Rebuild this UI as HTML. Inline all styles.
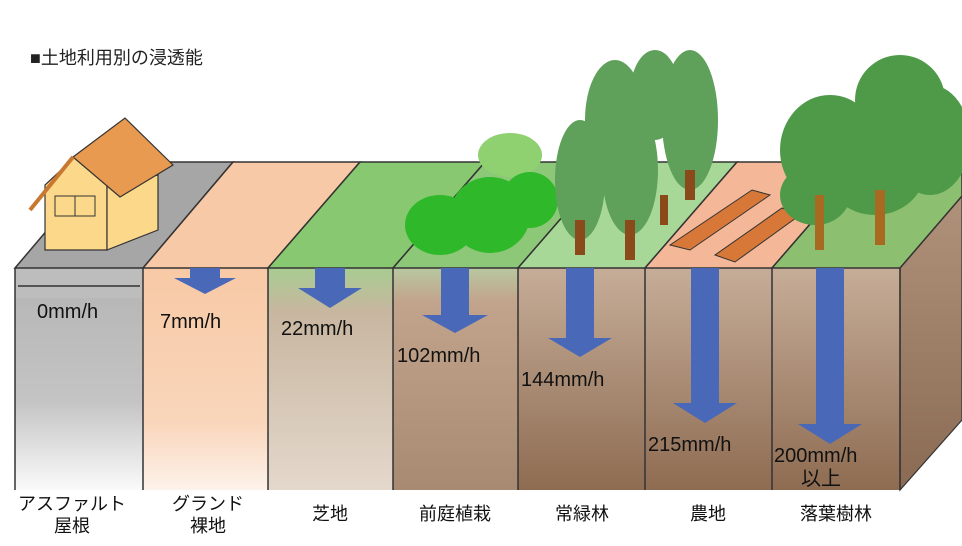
<!DOCTYPE html>
<html><head><meta charset="utf-8"><style>
body{margin:0;background:#fff;width:962px;height:541px;overflow:hidden}
svg text{font-family:"Liberation Sans","Noto Sans CJK JP",sans-serif}
</style></head><body>
<svg width="962" height="541" viewBox="0 0 962 541" xmlns="http://www.w3.org/2000/svg">
<defs>
<linearGradient id="ga" x1="0" y1="0" x2="0" y2="1"><stop offset="0" stop-color="#b4b4b4"/><stop offset="0.6" stop-color="#c4c4c4"/><stop offset="1" stop-color="#fafafa"/></linearGradient>
<linearGradient id="gp" x1="0" y1="0" x2="0" y2="1"><stop offset="0" stop-color="#f8c9a5"/><stop offset="0.7" stop-color="#f9d6bb"/><stop offset="1" stop-color="#fdf2ea"/></linearGradient>
<linearGradient id="gs" x1="0" y1="0" x2="0" y2="1"><stop offset="0" stop-color="#a8cc90"/><stop offset="0.2" stop-color="#c8b6a0"/><stop offset="1" stop-color="#e4d8cc"/></linearGradient>
<linearGradient id="gb" x1="0" y1="0" x2="0" y2="1"><stop offset="0" stop-color="#b8c8a0"/><stop offset="0.15" stop-color="#c2a48c"/><stop offset="1" stop-color="#a88a72"/></linearGradient>
<linearGradient id="gd" x1="0" y1="0" x2="0" y2="1"><stop offset="0" stop-color="#c6ad98"/><stop offset="1" stop-color="#8e6c52"/></linearGradient>
<linearGradient id="gr" x1="0" y1="0" x2="0" y2="1"><stop offset="0" stop-color="#b0927a"/><stop offset="1" stop-color="#8a6a52"/></linearGradient>
</defs>
<text x="30" y="64" font-size="18" fill="#222">■土地利用別の浸透能</text>
<rect x="15" y="268" width="128" height="222" fill="url(#ga)"/>
<rect x="15" y="268" width="128" height="30" fill="#bdbdbd"/>
<rect x="143" y="268" width="125" height="222" fill="url(#gp)"/>
<rect x="268" y="268" width="125" height="222" fill="url(#gs)"/>
<rect x="393" y="268" width="125" height="222" fill="url(#gb)"/>
<rect x="518" y="268" width="127" height="222" fill="url(#gd)"/>
<rect x="645" y="268" width="127" height="222" fill="url(#gd)"/>
<rect x="772" y="268" width="128" height="222" fill="url(#gd)"/>
<polygon points="900,268 962,196 962,420 900,490" fill="url(#gr)" stroke="#333" stroke-width="1.2"/>
<polygon points="15,268 143,268 233,162 105,162" fill="#a6a6a6" stroke="#333" stroke-width="1.5"/>
<polygon points="143,268 268,268 360,162 233,162" fill="#f7c9a6" stroke="#333" stroke-width="1.5"/>
<polygon points="268,268 393,268 485,162 360,162" fill="#88c870" stroke="#333" stroke-width="1.5"/>
<polygon points="393,268 518,268 610,162 485,162" fill="#8cc878" stroke="#333" stroke-width="1.5"/>
<polygon points="518,268 645,268 737,162 610,162" fill="#a8d898" stroke="#333" stroke-width="1.5"/>
<polygon points="645,268 772,268 864,162 737,162" fill="#f4b898" stroke="#333" stroke-width="1.5"/>
<polygon points="772,268 900,268 962,196 962,162 864,162" fill="#8cc070" stroke="#333" stroke-width="1.5"/>
<g stroke="#333" stroke-width="1.5" fill="none">
<line x1="143" y1="268" x2="143" y2="490"/><line x1="268" y1="268" x2="268" y2="490"/><line x1="393" y1="268" x2="393" y2="490"/><line x1="518" y1="268" x2="518" y2="490"/><line x1="645" y1="268" x2="645" y2="490"/><line x1="772" y1="268" x2="772" y2="490"/><line x1="900" y1="268" x2="900" y2="490"/><line x1="15" y1="268" x2="15" y2="490"/>
</g>
<line x1="18" y1="286" x2="140" y2="286" stroke="#333" stroke-width="1.5"/>
<!-- house -->
<polygon points="45,250 107,250 107,185 75,157 45,185" fill="#fbd88a" stroke="#333" stroke-width="1.2"/>
<polygon points="107,250 158,230 158,175 107,185" fill="#fbd88a" stroke="#333" stroke-width="1.2"/>
<polygon points="73,157 125,118 173,165 120,197" fill="#e89a50" stroke="#333" stroke-width="1.2"/>
<line x1="30" y1="210" x2="73" y2="157" stroke="#c87830" stroke-width="4"/>
<rect x="55" y="196" width="40" height="20" fill="none" stroke="#333"/>
<line x1="75" y1="196" x2="75" y2="216" stroke="#333"/>
<!-- bushes -->
<ellipse cx="510" cy="155" rx="32" ry="22" fill="#8fd070"/>
<g fill="#2fb82a"><ellipse cx="440" cy="225" rx="35" ry="30"/><ellipse cx="490" cy="215" rx="40" ry="38"/><ellipse cx="530" cy="200" rx="28" ry="28"/></g>
<!-- evergreen -->
<g fill="#5fa05a"><ellipse cx="615" cy="120" rx="30" ry="60"/><ellipse cx="655" cy="95" rx="25" ry="45"/><ellipse cx="690" cy="120" rx="28" ry="70"/><ellipse cx="580" cy="180" rx="25" ry="60"/><ellipse cx="630" cy="170" rx="28" ry="65"/></g>
<g fill="#8a4a1a"><rect x="575" y="220" width="10" height="35"/><rect x="625" y="220" width="10" height="40"/><rect x="685" y="170" width="10" height="30"/><rect x="660" y="195" width="8" height="30"/></g>
<g fill="#d87838" stroke="#333"><polygon points="670,245 690,250 770,195 752,190"/><polygon points="715,255 735,262 800,215 782,208"/></g>
<g fill="#4e9a48"><ellipse cx="830" cy="150" rx="50" ry="55"/><ellipse cx="900" cy="100" rx="45" ry="45"/><ellipse cx="930" cy="140" rx="40" ry="55"/><ellipse cx="875" cy="170" rx="50" ry="45"/><ellipse cx="815" cy="195" rx="35" ry="30"/></g>
<g fill="#a86a20"><rect x="815" y="195" width="9" height="55"/><rect x="875" y="190" width="10" height="55"/></g>
<!-- arrows -->
<g fill="#4a68b8">
<polygon points="190,268 220,268 220,278 236,278 205,294 174,278 190,278"/>
<polygon points="315,268 345,268 345,288 362,288 330,308 298,288 315,288"/>
<polygon points="441,268 469,268 469,315 488,315 455,333 422,315 441,315"/>
<polygon points="566,268 594,268 594,338 612,338 580,357 548,338 566,338"/>
<polygon points="691,268 719,268 719,403 737,403 705,423 673,403 691,403"/>
<polygon points="816,268 844,268 844,424 862,424 830,444 798,424 816,424"/>
</g>
<g font-size="20" fill="#111">
<text x="37" y="318">0mm/h</text>
<text x="160" y="328">7mm/h</text>
<text x="281" y="335">22mm/h</text>
<text x="397" y="362">102mm/h</text>
<text x="521" y="386">144mm/h</text>
<text x="648" y="451">215mm/h</text>
<text x="774" y="462">200mm/h</text>
<text x="801" y="485">以上</text>
</g>
<g font-size="18" fill="#111" text-anchor="middle">
<text x="72" y="510">アスファルト</text><text x="72" y="532">屋根</text>
<text x="208" y="510">グランド</text><text x="208" y="532">裸地</text>
<text x="330" y="520">芝地</text>
<text x="455" y="520">前庭植栽</text>
<text x="582" y="520">常緑林</text>
<text x="708" y="520">農地</text>
<text x="836" y="520">落葉樹林</text>
</g>
</svg>
</body></html>
